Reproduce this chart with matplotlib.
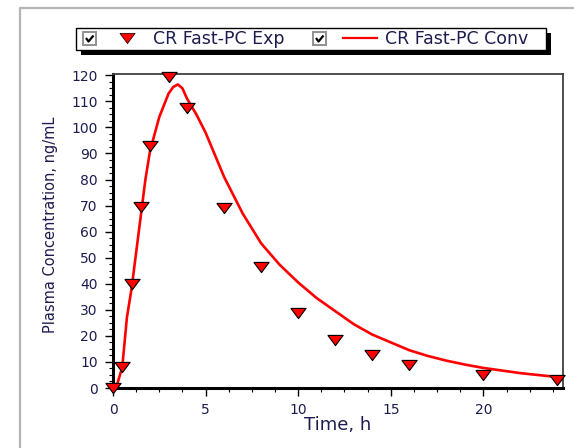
import numpy as np
import matplotlib.pyplot as plt
from matplotlib.patches import Rectangle
from matplotlib.ticker import MultipleLocator

plt.rcParams['font.family'] = ['DejaVu Sans']

# observed concentrations
t_obs = [0, 0.5, 1, 1.5, 2, 3, 4, 6, 8, 10, 12, 14, 16, 20, 24]
c_obs = [0, 8, 40, 69.5, 93, 119.5, 107.5, 69, 46.5, 28.7, 18.6, 12.7, 8.8, 5, 3]

# convolution prediction
t_conv = [0, 0.1, 0.25, 0.5, 0.75, 1, 1.25, 1.5, 1.75, 2, 2.5, 3, 3.25, 3.5,
          3.75, 4, 4.5, 5, 6, 7, 8, 9, 10, 11, 12, 13, 14, 15, 16, 17, 18, 19, 20, 22, 24]
c_conv = [0, 0, 2, 8, 27, 38, 52, 66, 80, 91, 104, 113, 115.5, 116.5,
          115, 111, 105, 98, 81, 67, 55.5, 47.3, 40.5, 34.5, 29.5, 24.5, 20.5, 17.5,
          14.5, 12.3, 10.5, 9, 7.7, 5.7, 4.2]

label_exp = "CR Fast-PC Exp"
label_conv = "CR Fast-PC Conv"
txt_col = '#1c1c50'
tri = [(-1.5, 1), (1.5, 1), (0, -1), (-1.5, 1)]

fig = plt.figure(figsize=(5.74, 4.48), dpi=100)
W, H = 574, 448

ax = fig.add_axes([113 / W, 1 - 388 / H, 450 / W, 314 / H])
ax.plot(t_conv, c_conv, color='#ff0000', lw=1.9, zorder=2)
ax.plot(t_obs, c_obs, linestyle='none', marker=tri, markersize=11,
        markerfacecolor='#ff0000', markeredgecolor='black', markeredgewidth=0.8,
        clip_on=False, zorder=3)
ax.set_xlim(0, 24.3)
ax.set_ylim(0, 120.5)
ax.xaxis.set_major_locator(MultipleLocator(5))
ax.xaxis.set_minor_locator(MultipleLocator(1.25))
ax.yaxis.set_major_locator(MultipleLocator(10))
ax.yaxis.set_minor_locator(MultipleLocator(2.5))
ax.tick_params(which='major', direction='out', length=6, width=1, labelsize=10,
               labelcolor=txt_col, pad=5)
ax.tick_params(which='minor', direction='out', length=3, width=0.8)
for s in ['left', 'bottom']:
    ax.spines[s].set_linewidth(2.2)
for s in ['top', 'right']:
    ax.spines[s].set_linewidth(1.3)
    ax.spines[s].set_color('#404040')
ax.set_xlabel("Time, h", fontsize=13, color=txt_col, labelpad=-1)
ax.set_ylabel("Plasma Concentration, ng/mL", fontsize=10.5, color=txt_col)
ax.yaxis.set_label_coords(-0.122, 0.52)

# overlay in pixel coordinates for the frame and legend
ov = fig.add_axes([0, 0, 1, 1], zorder=-1)
ov.set_xlim(0, W)
ov.set_ylim(H, 0)
ov.axis('off')
ov.plot([20, 20, W], [H, 8, 8], color='#b4b4b4', lw=1.6)

lg = fig.add_axes([0, 0, 1, 1], zorder=5)
lg.set_xlim(0, W)
lg.set_ylim(H, 0)
lg.axis('off')
lg.patch.set_alpha(0)
lg.add_patch(Rectangle((81, 33), 470, 22, facecolor='black', edgecolor='none'))
lg.add_patch(Rectangle((76, 28), 470, 22, facecolor='white', edgecolor='black', lw=1))


def checkbox(x):
    lg.add_patch(Rectangle((x, 32), 13, 13, facecolor='white', edgecolor='#909090', lw=1.4))
    lg.plot([x + 3, x + 5.5, x + 10.5], [38, 41.5, 35.5], color='black', lw=1.6,
            solid_capstyle='butt')


checkbox(83)
lg.plot([127], [38.5], marker=tri, markersize=11, markerfacecolor='#ff0000',
        markeredgecolor='black', markeredgewidth=0.5, linestyle='none')
lg.text(153, 39, label_exp, fontsize=12.5, color=txt_col, va='center', ha='left')
checkbox(313)
lg.plot([343, 377], [38.5, 38.5], color='#ff0000', lw=1.6)
lg.text(385, 39, label_conv, fontsize=12.5, color=txt_col, va='center', ha='left')

fig.savefig("out.png", dpi=100)
